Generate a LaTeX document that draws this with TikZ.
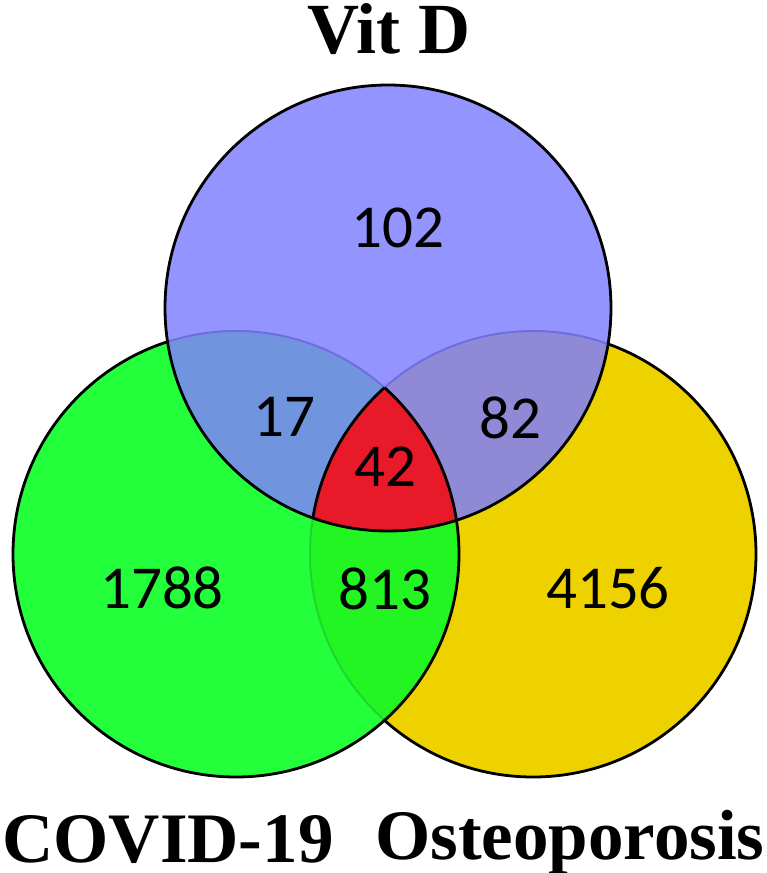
\documentclass[tikz,border=0pt]{standalone}
\usepackage{fontspec}
\setmainfont{Liberation Serif}
\newfontfamily\numfont{Carlito}
\definecolor{cblue}{RGB}{148,148,255}
\definecolor{cgreen}{RGB}{36,255,60}
\definecolor{cyellow}{RGB}{238,210,0}
\definecolor{cTL}{RGB}{112,148,222}
\definecolor{cTR}{RGB}{144,138,214}
\definecolor{cLR}{RGB}{34,245,34}
\definecolor{cred}{RGB}{232,25,40}
\definecolor{fblue}{RGB}{110,110,225}
\definecolor{fgreen}{RGB}{30,215,45}
\begin{document}
\begin{tikzpicture}[x=1pt,y=-1pt,
  num/.style={inner sep=0pt, font=\numfont\fontsize{61}{68}\selectfont},
  setlbl/.style={inner sep=0pt, anchor=base, font=\fontsize{71}{78}\selectfont\bfseries},
  outline/.style={draw=black, line width=2.8pt},
  faint/.style={line width=2pt}]
\useasboundingbox (0,0) rectangle (766,873);
\def\RR{223pt}
\coordinate (T) at (388,308);
\coordinate (L) at (236,554);
\coordinate (Rc) at (533,554);
% base fills
\fill[cblue] (T) circle (\RR);
\fill[cgreen] (L) circle (\RR);
\fill[cyellow] (Rc) circle (\RR);
\begin{scope}
  \clip (T) circle (\RR);
  \fill[cTL] (L) circle (\RR);
  \fill[cTR] (Rc) circle (\RR);
\end{scope}
\begin{scope}
  \clip (L) circle (\RR);
  \fill[cLR] (Rc) circle (\RR);
\end{scope}
\begin{scope}
  \clip (T) circle (\RR);
  \clip (L) circle (\RR);
  \fill[cred] (Rc) circle (\RR);
\end{scope}
% faint outlines
\begin{scope}
  \clip (T) circle (\RR);
  \draw[fblue, faint] (L) circle (\RR);
  \draw[fblue, faint] (Rc) circle (\RR);
\end{scope}
\begin{scope}
  \clip (L) circle (\RR);
  \draw[fgreen, faint] (Rc) circle (\RR);
\end{scope}
% black outlines
\draw[outline] (T) circle (\RR);
\begin{scope}[even odd rule]
  \clip (0,873) rectangle (766,0) (T) circle (\RR);
  \draw[outline] (L) circle (\RR);
  \clip (0,873) rectangle (766,0) (L) circle (\RR);
  \draw[outline] (Rc) circle (\RR);
\end{scope}
\begin{scope}
  \clip (T) circle (\RR);
  \clip (Rc) circle (\RR);
  \draw[outline] (L) circle (\RR);
\end{scope}
\begin{scope}
  \clip (T) circle (\RR);
  \clip (L) circle (\RR);
  \draw[outline] (Rc) circle (\RR);
\end{scope}
% numbers
\node[num] (n102) at (398,228) {102};
\node[num] (n17) at (284,417) {17};
\node[num] (n82) at (510,418) {82};
\node[num] (n42) at (385,467) {42};
\node[num] (n1788) at (162,588) {1788};
\node[num] (n813) at (385,589) {813};
\node[num] (n4156) at (608,588) {4156};
% set labels
\node[setlbl, font=\fontsize{72}{78}\selectfont\bfseries] (vitd) at (389,53) {Vit D};
\node[setlbl] (covid) at (168,862) {COVID-19};
\node[setlbl] (osteo) at (570,859) {Osteoporosis};
\end{tikzpicture}
\end{document}
